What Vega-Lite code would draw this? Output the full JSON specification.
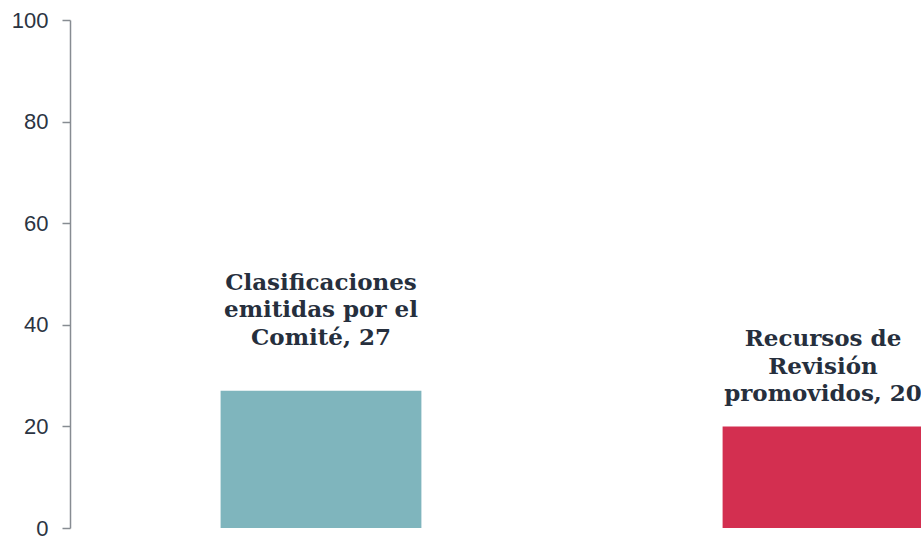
{
  "$schema": "https://vega.github.io/schema/vega-lite/v6.json",
  "width": 851,
  "height": 508,
  "autosize": {"type": "none"},
  "padding": {"left": 70, "top": 20, "right": 0, "bottom": 10},
  "background": "white",
  "config": {
    "view": {"stroke": null},
    "axis": {"grid": false}
  },
  "data": {
    "values": [
      {"categoria": "Clasificaciones emitidas por el Comité", "valor": 27, "etiqueta": "Clasificaciones\nemitidas por el\nComité, 27"},
      {"categoria": "Recursos de Revisión promovidos", "valor": 20, "etiqueta": "Recursos de\nRevisión\npromovidos, 20"}
    ]
  },
  "encoding": {
    "x": {
      "field": "categoria",
      "type": "nominal",
      "sort": null,
      "axis": null,
      "scale": {"range": [0, 1004], "paddingInner": 0.6, "paddingOuter": 0.3}
    },
    "y": {
      "field": "valor",
      "type": "quantitative",
      "scale": {"domain": [0, 100], "nice": false},
      "axis": {
        "title": null,
        "values": [0, 20, 40, 60, 80, 100],
        "domainColor": "#878c92",
        "domainWidth": 1.5,
        "tickColor": "#878c92",
        "tickWidth": 1.5,
        "tickSize": 8,
        "labelPadding": 14,
        "labelFont": "Liberation Sans",
        "labelFontSize": 22,
        "labelColor": "#2b3442"
      }
    }
  },
  "layer": [
    {
      "mark": {"type": "bar"},
      "encoding": {
        "color": {
          "field": "categoria",
          "type": "nominal",
          "legend": null,
          "scale": {
            "domain": ["Clasificaciones emitidas por el Comité", "Recursos de Revisión promovidos"],
            "range": ["#7fb5bd", "#d32f50"]
          }
        }
      }
    },
    {
      "transform": [{"filter": "datum.valor == 27"}],
      "mark": {
        "type": "text",
        "baseline": "bottom",
        "align": "center",
        "lineBreak": "\n",
        "lineHeight": 27.5,
        "dy": -96,
        "font": "DejaVu Serif",
        "fontWeight": "bold",
        "fontSize": 23,
        "color": "#262f3d"
      },
      "encoding": {"text": {"field": "etiqueta"}}
    },
    {
      "transform": [{"filter": "datum.valor == 20"}],
      "mark": {
        "type": "text",
        "baseline": "bottom",
        "align": "center",
        "lineBreak": "\n",
        "lineHeight": 27.5,
        "dy": -75,
        "font": "DejaVu Serif",
        "fontWeight": "bold",
        "fontSize": 23,
        "color": "#262f3d"
      },
      "encoding": {"text": {"field": "etiqueta"}}
    }
  ]
}
